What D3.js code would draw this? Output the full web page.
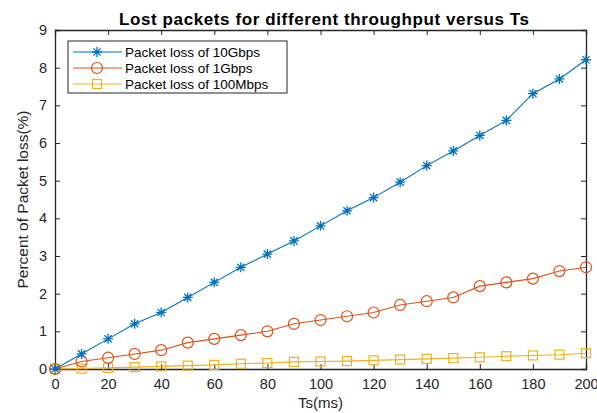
<!DOCTYPE html>
<html><head><meta charset="utf-8">
<script src="https://d3js.org/d3.v7.min.js"></script>
<style>body{margin:0;background:#fff;} text{font-family:"Liberation Sans",Arial,sans-serif;}</style>
</head><body>
<svg id="c" width="597" height="413"></svg>
<script>
const ts = [0,10,20,30,40,50,60,70,80,90,100,110,120,130,140,150,160,170,180,190,200];
const loss10G = [0,0.4,0.8,1.2,1.5,1.9,2.3,2.7,3.05,3.4,3.8,4.2,4.55,4.96,5.4,5.79,6.2,6.6,7.31,7.7,8.21];
const loss1G = [0,0.2,0.3,0.4,0.5,0.7,0.8,0.9,1.0,1.2,1.3,1.4,1.5,1.7,1.8,1.9,2.2,2.3,2.4,2.6,2.7];
const loss100M = [0,0.01,0.03,0.05,0.07,0.09,0.11,0.14,0.16,0.19,0.2,0.21,0.23,0.25,0.27,0.29,0.31,0.34,0.36,0.38,0.42];
const xTicks = [0,20,40,60,80,100,120,140,160,180,200];
const yTicks = [0,1,2,3,4,5,6,7,8,9];
const seriesNames = ["Packet loss of 10Gbps","Packet loss of 1Gbps","Packet loss of 100Mbps"];
const colors = ["#0072BD","#D95319","#EDB120"];
const markers = ["star","circle","square"];

const svg = d3.select("#c");
const L=55,R=586,T=30,B=369;
const x = d3.scaleLinear().domain([0,200]).range([L,R]);
const y = d3.scaleLinear().domain([0,9]).range([B,T]);

const axCol="#262626";
const gx = svg.append("g").attr("transform",`translate(0,${B})`)
  .call(d3.axisBottom(x).tickValues(xTicks).tickSize(-5).tickPadding(10));
const gy = svg.append("g").attr("transform",`translate(${L},0)`)
  .call(d3.axisLeft(y).tickValues(yTicks).tickSize(-5).tickPadding(8));
const gxt = svg.append("g").attr("transform",`translate(0,${T})`)
  .call(d3.axisTop(x).tickValues(xTicks).tickSize(-5).tickFormat(""));
const gyr = svg.append("g").attr("transform",`translate(${R},0)`)
  .call(d3.axisRight(y).tickValues(yTicks).tickSize(-5).tickFormat(""));
[gx,gy,gxt,gyr].forEach(g=>{
  g.select(".domain").attr("stroke",axCol).attr("stroke-width",1.3);
  g.selectAll(".tick line").attr("stroke",axCol);
  g.selectAll(".tick text").attr("fill",axCol).attr("font-size",14.5).attr("font-family","Liberation Sans, Arial, sans-serif");
});

svg.append("text").attr("x",324).attr("y",25).attr("text-anchor","middle")
  .attr("font-weight","bold").attr("font-size",17).attr("fill","#000")
  .attr("textLength",410).attr("lengthAdjust","spacing")
  .text("Lost packets for different throughput versus Ts");
svg.append("text").attr("x",(L+R)/2).attr("y",408).attr("text-anchor","middle")
  .attr("font-size",15).attr("fill",axCol).text("Ts(ms)");
svg.append("text").attr("transform",`translate(28,${(T+B)/2}) rotate(-90)`).attr("text-anchor","middle")
  .attr("font-size",15).attr("fill",axCol).attr("textLength",178).attr("lengthAdjust","spacingAndGlyphs")
  .text("Percent of Packet loss(%)");

function drawMarker(g,type,cx,cy,col){
  if(type==="star"){
    const s=5;
    const p=d3.path();
    p.moveTo(cx-s,cy);p.lineTo(cx+s,cy);
    p.moveTo(cx,cy-s);p.lineTo(cx,cy+s);
    const d=s*0.72;
    p.moveTo(cx-d,cy-d);p.lineTo(cx+d,cy+d);
    p.moveTo(cx-d,cy+d);p.lineTo(cx+d,cy-d);
    g.append("path").attr("d",p.toString()).attr("stroke",col).attr("stroke-width",1.3).attr("fill","none");
  } else if(type==="circle"){
    g.append("circle").attr("cx",cx).attr("cy",cy).attr("r",5.5).attr("fill","none").attr("stroke",col).attr("stroke-width",1.2);
  } else {
    g.append("rect").attr("x",cx-4.5).attr("y",cy-4.5).attr("width",9).attr("height",9).attr("fill","none").attr("stroke",col).attr("stroke-width",1.2);
  }
}

const allData=[loss10G,loss1G,loss100M];
const line=d3.line().x(d=>x(d[0])).y(d=>y(d[1]));
[2,1,0].forEach(i=>{
  const pts=ts.map((t,j)=>[t,allData[i][j]]);
  const g=svg.append("g");
  g.append("path").datum(pts).attr("d",line).attr("fill","none").attr("stroke",colors[i]).attr("stroke-width",1.1);
  pts.forEach(p=>drawMarker(g,markers[i],x(p[0]),y(p[1]),colors[i]));
});

const lg=svg.append("g");
lg.append("rect").attr("x",68).attr("y",41).attr("width",219).attr("height",52)
  .attr("fill","#fff").attr("stroke",axCol).attr("stroke-width",1);
seriesNames.forEach((n,i)=>{
  const yy=52+i*16;
  lg.append("line").attr("x1",73).attr("x2",122).attr("y1",yy).attr("y2",yy).attr("stroke",colors[i]).attr("stroke-width",1.1);
  drawMarker(lg,markers[i],97,yy,colors[i]);
  lg.append("text").attr("x",125).attr("y",yy+5).attr("font-size",13.5).attr("fill","#000").text(n);
});
</script>
</body></html>
